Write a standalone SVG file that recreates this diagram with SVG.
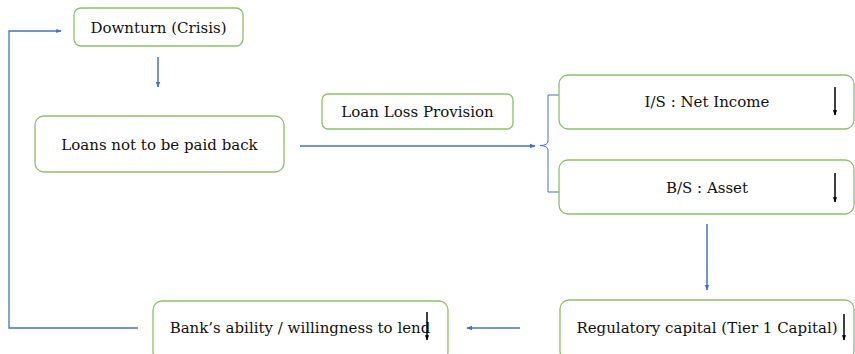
<svg xmlns="http://www.w3.org/2000/svg" width="855" height="354" viewBox="0 0 855 354">
<style>
.box{fill:#fff;stroke:#8cc169;stroke-width:1.3}
.t{font-family:"DejaVu Serif","Liberation Serif",serif;font-size:15px;fill:#111;text-anchor:middle;dominant-baseline:central}
.c{fill:none;stroke:#4472c4;stroke-width:1.5}
.b{fill:none;stroke:#4472c4;stroke-width:1}
.k{stroke:#000;stroke-width:1.5}
</style>
<defs>
<marker id="ah" viewBox="0 0 10 10" refX="9" refY="5" markerWidth="4" markerHeight="4" orient="auto" markerUnits="strokeWidth"><path d="M0,1L10,5L0,9z" fill="#4472c4"/></marker>
<marker id="kh" viewBox="0 0 10 10" refX="9" refY="5" markerWidth="3.5" markerHeight="3.5" orient="auto" markerUnits="strokeWidth"><path d="M0,1L10,5L0,9z" fill="#000"/></marker>
</defs>
<g id="connectors">
<path class="c" d="M158,57V87" marker-end="url(#ah)"/>
<path class="c" d="M300,146H535" marker-end="url(#ah)"/>
<path class="b" d="M560,95H548V141Q548,145.5 540,145.5Q548,146 548,150V192H560"/>
<path class="c" d="M707,224V290" marker-end="url(#ah)"/>
<path class="c" d="M520,328H467" marker-end="url(#ah)"/>
<path class="b" d="M138,328H9V31H61" marker-end="url(#ah)" style="stroke-width:1.3"/>
</g>
<g id="downturn"><rect class="box" x="74" y="8" width="169" height="38" rx="7"/><text class="t" x="158.5" y="28">Downturn (Crisis)</text></g>
<g id="loans"><rect class="box" x="35" y="116" width="249" height="56" rx="9"/><text class="t" x="159.5" y="145">Loans not to be paid back</text></g>
<g id="llp"><rect class="box" x="322" y="94" width="191" height="35" rx="6"/><text class="t" x="417.5" y="112">Loan Loss Provision</text></g>
<g id="is"><rect class="box" x="559" y="75" width="295" height="54" rx="9"/><text class="t" x="707" y="102">I/S : Net Income</text><line class="k" x1="835" y1="87" x2="835" y2="115" marker-end="url(#kh)"/></g>
<g id="bs"><rect class="box" x="559" y="160" width="295" height="54" rx="9"/><text class="t" x="707" y="188">B/S : Asset</text><line class="k" x1="835" y1="173" x2="835" y2="202" marker-end="url(#kh)"/></g>
<g id="regcap"><rect class="box" x="560" y="300" width="294" height="60" rx="9"/><text class="t" x="707" y="328">Regulatory capital (Tier 1 Capital)</text><line class="k" x1="844" y1="314" x2="844" y2="340" marker-end="url(#kh)"/></g>
<g id="bank"><rect class="box" x="153" y="301" width="295" height="60" rx="9"/><text class="t" x="300" y="328">Bank’s ability / willingness to lend</text><line class="k" x1="427" y1="312" x2="427" y2="340" marker-end="url(#kh)"/></g>
</svg>
